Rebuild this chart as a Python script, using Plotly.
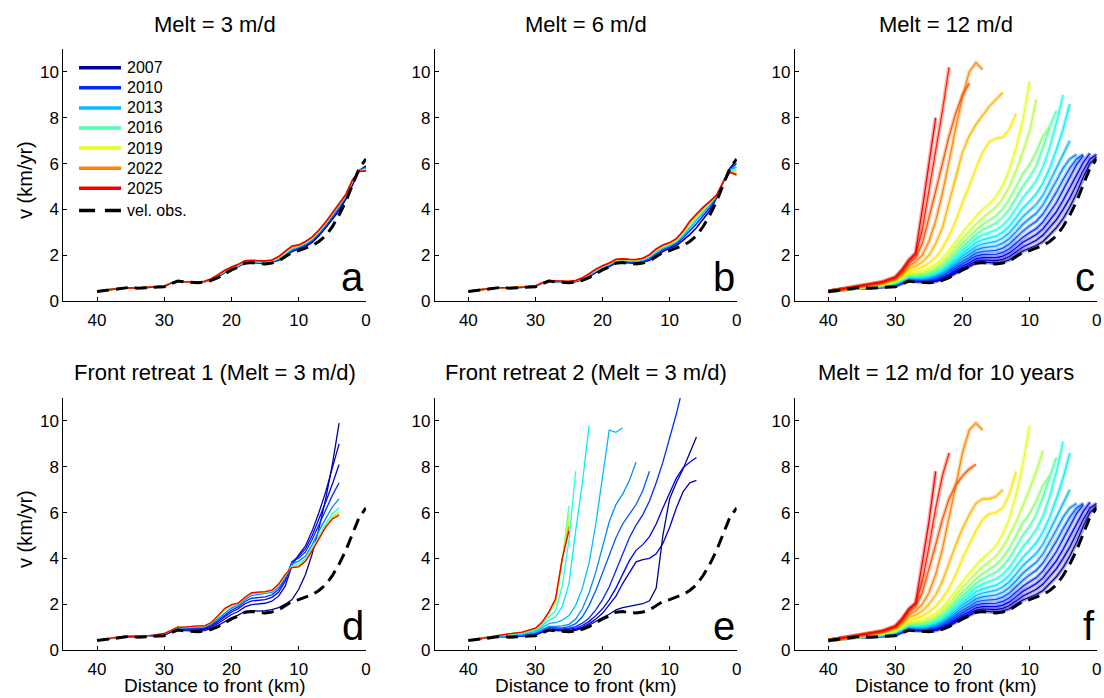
import plotly.graph_objects as go

# ---------------- data ----------------
GRID = [40, 38, 36, 34, 32, 30, 29, 28, 27, 26, 25, 24, 23, 22, 21, 20, 19, 18, 17, 16,
        15, 14, 13, 12, 11, 10, 9, 8, 7, 6, 5, 4, 3, 2, 1, 0]

OBS_X = [40, 38, 36, 35, 34, 32, 30, 29, 28, 27, 26, 25, 24, 23, 22, 21, 20, 19, 18, 17,
         16, 15, 14, 13, 12, 11, 10, 9, 8, 7, 6, 5, 4, 3, 2, 1, 0]
OBS_V = [0.41, 0.48, 0.57, 0.6, 0.56, 0.58, 0.62, 0.75, 0.87, 0.83, 0.8, 0.8, 0.82, 0.9,
         1.02, 1.2, 1.36, 1.48, 1.65, 1.68, 1.63, 1.62, 1.66, 1.75, 1.95, 2.12, 2.2, 2.3,
         2.42, 2.6, 2.85, 3.25, 3.75, 4.35, 5.05, 5.8, 6.2]

LEGEND_YEARS = [2007, 2010, 2013, 2016, 2019, 2022, 2025]

# Panel a: Melt = 3 m/d
A_YEARS = [2007, 2010, 2013, 2016, 2019, 2022, 2025]
A_VEL = [
    [0.42, 0.5, 0.58, 0.57, 0.59, 0.64, 0.78, 0.87, 0.84, 0.82, 0.82, 0.84, 0.93, 1.06, 1.24, 1.38, 1.5, 1.66, 1.68, 1.66,
     1.65, 1.69, 1.78, 1.98, 2.16, 2.28, 2.38, 2.56, 2.85, 3.2, 3.55, 3.95, 4.45, 5.1, 5.7, 5.9],
    [0.42, 0.5, 0.58, 0.57, 0.59, 0.64, 0.78, 0.87, 0.84, 0.82, 0.82, 0.85, 0.94, 1.08, 1.26, 1.4, 1.52, 1.68, 1.7, 1.68,
     1.67, 1.71, 1.81, 2.02, 2.21, 2.33, 2.44, 2.63, 2.93, 3.28, 3.65, 4.06, 4.53, 5.17, 5.69, 5.84],
    [0.42, 0.5, 0.58, 0.57, 0.59, 0.64, 0.78, 0.87, 0.84, 0.82, 0.82, 0.85, 0.95, 1.1, 1.28, 1.42, 1.54, 1.7, 1.72, 1.7,
     1.69, 1.73, 1.84, 2.06, 2.26, 2.37, 2.5, 2.69, 2.99, 3.34, 3.73, 4.13, 4.58, 5.22, 5.68, 5.79],
    [0.42, 0.5, 0.58, 0.57, 0.59, 0.64, 0.78, 0.87, 0.84, 0.82, 0.82, 0.85, 0.95, 1.12, 1.3, 1.44, 1.56, 1.72, 1.74, 1.72,
     1.71, 1.75, 1.87, 2.1, 2.31, 2.4, 2.54, 2.73, 3.03, 3.38, 3.78, 4.18, 4.61, 5.26, 5.67, 5.75],
    [0.42, 0.5, 0.58, 0.57, 0.59, 0.64, 0.78, 0.87, 0.84, 0.82, 0.82, 0.85, 0.96, 1.13, 1.32, 1.46, 1.58, 1.74, 1.76, 1.74,
     1.73, 1.77, 1.9, 2.13, 2.35, 2.42, 2.57, 2.76, 3.06, 3.41, 3.81, 4.21, 4.63, 5.28, 5.66, 5.72],
    [0.42, 0.5, 0.58, 0.57, 0.59, 0.64, 0.78, 0.87, 0.84, 0.82, 0.82, 0.85, 0.96, 1.14, 1.33, 1.47, 1.59, 1.75, 1.77, 1.75,
     1.74, 1.78, 1.92, 2.16, 2.38, 2.44, 2.59, 2.78, 3.08, 3.43, 3.83, 4.23, 4.64, 5.29, 5.65, 5.7],
    [0.42, 0.5, 0.58, 0.57, 0.59, 0.64, 0.78, 0.87, 0.84, 0.82, 0.82, 0.86, 0.97, 1.15, 1.34, 1.48, 1.6, 1.76, 1.78, 1.76,
     1.75, 1.79, 1.94, 2.18, 2.4, 2.45, 2.6, 2.8, 3.1, 3.45, 3.85, 4.25, 4.65, 5.3, 5.65, 5.68],
]

# Panel b: Melt = 6 m/d
B_YEARS = [2007, 2010, 2013, 2016, 2019, 2022, 2025]
B_VEL = [
    [0.42, 0.5, 0.58, 0.57, 0.59, 0.64, 0.78, 0.87, 0.84, 0.82, 0.82, 0.84, 0.93, 1.06, 1.24, 1.38, 1.5, 1.66, 1.68, 1.66,
     1.65, 1.69, 1.78, 1.98, 2.16, 2.3, 2.42, 2.65, 2.9, 3.2, 3.55, 3.95, 4.5, 5.2, 5.8, 6.15],
    [0.42, 0.5, 0.58, 0.57, 0.59, 0.64, 0.78, 0.87, 0.84, 0.82, 0.83, 0.86, 0.95, 1.1, 1.28, 1.42, 1.54, 1.7, 1.72, 1.7,
     1.69, 1.73, 1.84, 2.06, 2.24, 2.36, 2.5, 2.75, 3.05, 3.37, 3.72, 4.08, 4.54, 5.21, 5.76, 6.0],
    [0.42, 0.5, 0.58, 0.57, 0.59, 0.65, 0.79, 0.88, 0.85, 0.83, 0.84, 0.87, 0.97, 1.13, 1.32, 1.46, 1.58, 1.74, 1.76, 1.74,
     1.73, 1.77, 1.9, 2.12, 2.3, 2.42, 2.57, 2.85, 3.2, 3.52, 3.85, 4.18, 4.57, 5.21, 5.72, 5.85],
    [0.42, 0.5, 0.58, 0.58, 0.6, 0.65, 0.79, 0.88, 0.85, 0.83, 0.84, 0.87, 0.98, 1.15, 1.35, 1.5, 1.62, 1.78, 1.8, 1.78,
     1.77, 1.82, 1.96, 2.18, 2.36, 2.47, 2.63, 2.93, 3.32, 3.64, 3.96, 4.26, 4.6, 5.21, 5.68, 5.7],
    [0.42, 0.5, 0.58, 0.58, 0.6, 0.65, 0.79, 0.88, 0.86, 0.84, 0.85, 0.88, 0.99, 1.17, 1.37, 1.52, 1.64, 1.8, 1.82, 1.8,
     1.79, 1.84, 1.99, 2.22, 2.4, 2.5, 2.67, 2.99, 3.4, 3.72, 4.03, 4.31, 4.61, 5.2, 5.65, 5.6],
    [0.42, 0.5, 0.58, 0.58, 0.6, 0.65, 0.79, 0.89, 0.86, 0.84, 0.85, 0.88, 1.0, 1.18, 1.38, 1.53, 1.65, 1.81, 1.83, 1.81,
     1.8, 1.86, 2.01, 2.25, 2.43, 2.53, 2.7, 3.03, 3.45, 3.77, 4.07, 4.34, 4.62, 5.2, 5.63, 5.54],
    [0.42, 0.5, 0.58, 0.58, 0.6, 0.66, 0.8, 0.89, 0.87, 0.85, 0.86, 0.89, 1.01, 1.19, 1.39, 1.54, 1.66, 1.82, 1.84, 1.82,
     1.81, 1.87, 2.02, 2.27, 2.45, 2.55, 2.72, 3.06, 3.48, 3.8, 4.1, 4.35, 4.62, 5.2, 5.62, 5.5],
]

# Panel c: Melt = 12 m/d
C_YEARS = list(range(2007, 2026))
C_VEL = [
    [0.42, 0.5, 0.58, 0.58, 0.6, 0.65, 0.78, 0.88, 0.85, 0.83, 0.83, 0.85, 0.93, 1.05, 1.22, 1.38, 1.5, 1.66, 1.7, 1.66,
     1.65, 1.7, 1.8, 2.0, 2.18, 2.3, 2.42, 2.6, 2.9, 3.2, 3.6, 4.1, 4.7, 5.4, 6.0, 6.3],
    [0.42, 0.5, 0.58, 0.59, 0.61, 0.67, 0.8, 0.9, 0.87, 0.85, 0.86, 0.89, 0.98, 1.11, 1.28, 1.45, 1.58, 1.74, 1.79, 1.76,
     1.76, 1.82, 1.94, 2.15, 2.36, 2.5, 2.65, 2.88, 3.2, 3.55, 4.0, 4.5, 5.1, 5.7, 6.2, 6.4],
    [0.42, 0.5, 0.58, 0.6, 0.62, 0.68, 0.82, 0.92, 0.89, 0.87, 0.89, 0.93, 1.03, 1.17, 1.35, 1.53, 1.67, 1.84, 1.89, 1.88,
     1.89, 1.96, 2.1, 2.33, 2.56, 2.73, 2.9, 3.15, 3.5, 3.9, 4.4, 4.95, 5.5, 6.05, 6.45],
    [0.42, 0.5, 0.58, 0.6, 0.63, 0.7, 0.84, 0.95, 0.92, 0.9, 0.93, 0.98, 1.09, 1.25, 1.44, 1.63, 1.78, 1.96, 2.02, 2.02,
     2.04, 2.12, 2.28, 2.53, 2.78, 2.98, 3.16, 3.45, 3.85, 4.3, 4.85, 5.4, 5.95, 6.35],
    [0.42, 0.5, 0.58, 0.61, 0.64, 0.72, 0.86, 0.98, 0.95, 0.94, 0.97, 1.03, 1.15, 1.32, 1.53, 1.74, 1.9, 2.09, 2.16, 2.18,
     2.21, 2.31, 2.49, 2.77, 3.05, 3.28, 3.48, 3.8, 4.25, 4.75, 5.3, 5.8, 6.2, 6.4],
    [0.42, 0.5, 0.58, 0.62, 0.65, 0.74, 0.88, 1.0, 0.98, 0.97, 1.01, 1.08, 1.21, 1.4, 1.63, 1.86, 2.03, 2.23, 2.32, 2.35,
     2.4, 2.52, 2.73, 3.03, 3.35, 3.6, 3.83, 4.2, 4.7, 5.25, 5.8, 6.2, 6.4],
    [0.42, 0.5, 0.58, 0.62, 0.66, 0.76, 0.9, 1.03, 1.01, 1.0, 1.05, 1.13, 1.28, 1.48, 1.73, 1.98, 2.17, 2.38, 2.49, 2.54,
     2.6, 2.75, 2.98, 3.32, 3.68, 3.95, 4.22, 4.62, 5.18, 5.8, 6.4, 7.0],
    [0.42, 0.5, 0.58, 0.63, 0.67, 0.78, 0.92, 1.06, 1.04, 1.04, 1.09, 1.18, 1.34, 1.56, 1.83, 2.1, 2.31, 2.54, 2.67, 2.74,
     2.83, 3.0, 3.27, 3.65, 4.05, 4.35, 4.68, 5.15, 5.8, 6.6, 7.5, 8.6],
    [0.42, 0.5, 0.58, 0.63, 0.68, 0.8, 0.94, 1.09, 1.07, 1.08, 1.14, 1.24, 1.41, 1.65, 1.94, 2.23, 2.46, 2.72, 2.88, 2.98,
     3.1, 3.3, 3.62, 4.05, 4.5, 4.85, 5.25, 5.85, 6.7, 7.8, 9.0],
    [0.42, 0.5, 0.58, 0.64, 0.69, 0.82, 0.96, 1.12, 1.1, 1.12, 1.19, 1.3, 1.49, 1.75, 2.06, 2.37, 2.62, 2.9, 3.1, 3.24,
     3.4, 3.65, 4.02, 4.5, 5.0, 5.4, 5.9, 6.7, 7.6, 8.3],
    [0.42, 0.5, 0.58, 0.64, 0.7, 0.84, 0.98, 1.15, 1.14, 1.17, 1.25, 1.37, 1.58, 1.86, 2.2, 2.53, 2.8, 3.1, 3.34, 3.52,
     3.72, 4.02, 4.45, 5.0, 5.55, 5.95, 6.5, 7.2, 7.6],
    [0.42, 0.5, 0.59, 0.65, 0.71, 0.86, 1.0, 1.19, 1.19, 1.23, 1.33, 1.46, 1.69, 2.0, 2.37, 2.73, 3.03, 3.35, 3.62, 3.85,
     4.1, 4.48, 5.0, 5.7, 6.5, 7.4, 8.8],
    [0.42, 0.5, 0.59, 0.65, 0.72, 0.88, 1.03, 1.24, 1.26, 1.32, 1.44, 1.6, 1.86, 2.2, 2.6, 3.0, 3.35, 3.7, 4.0, 4.25,
     4.55, 5.05, 5.75, 6.7, 7.9, 9.6],
    [0.42, 0.51, 0.6, 0.66, 0.74, 0.91, 1.08, 1.32, 1.37, 1.48, 1.66, 1.9, 2.3, 2.85, 3.5, 4.3, 5.0, 5.8, 6.5, 6.95,
     7.1, 7.15, 7.5, 8.2],
    [0.42, 0.51, 0.6, 0.67, 0.76, 0.94, 1.14, 1.42, 1.52, 1.7, 2.0, 2.5, 3.2, 4.3, 5.4, 6.5, 7.2, 7.7, 8.1, 8.5,
     8.8, 9.1],
    [0.42, 0.51, 0.61, 0.68, 0.78, 0.97, 1.2, 1.53, 1.7, 2.0, 2.6, 3.5, 4.7, 6.1, 7.6, 8.9, 10.0, 10.4, 10.1],
    [0.42, 0.52, 0.62, 0.69, 0.8, 1.0, 1.27, 1.65, 1.88, 2.5, 3.6, 4.8, 6.0, 7.2, 8.2, 9.0, 9.5],
    [0.42, 0.52, 0.62, 0.7, 0.82, 1.02, 1.32, 1.74, 2.0, 3.1, 4.8, 6.5, 8.3, 10.2],
    [0.42, 0.52, 0.63, 0.71, 0.84, 1.05, 1.38, 1.8, 2.1, 4.0, 5.9, 8.0],
]

# Panel d: Front retreat 1 (Melt = 3 m/d)
D_YEARS = [2007, 2008, 2009, 2010, 2012, 2015, 2018, 2021, 2025]
D_VEL = [
    [0.42, 0.5, 0.58, 0.58, 0.6, 0.65, 0.78, 0.88, 0.85, 0.83, 0.83, 0.85, 0.94, 1.07, 1.25, 1.4, 1.52, 1.68, 1.72, 1.7,
     1.72, 1.76, 1.85, 2.0, 2.2, 2.65, 3.3, 4.2, 5.3, 6.6, 8.1, 9.9],
    [0.42, 0.5, 0.58, 0.59, 0.61, 0.67, 0.8, 0.91, 0.88, 0.87, 0.88, 0.9, 1.0, 1.16, 1.36, 1.55, 1.68, 1.88, 1.98, 2.0,
     2.04, 2.13, 2.35, 2.8, 3.7, 4.15, 4.55, 5.2, 6.0, 6.9, 7.9, 9.0],
    [0.42, 0.5, 0.58, 0.59, 0.62, 0.68, 0.82, 0.93, 0.91, 0.9, 0.92, 0.94, 1.06, 1.24, 1.46, 1.66, 1.8, 2.02, 2.14, 2.18,
     2.2, 2.3, 2.52, 3.0, 3.85, 4.1, 4.42, 5.0, 5.7, 6.45, 7.25, 8.1],
    [0.42, 0.5, 0.59, 0.6, 0.62, 0.69, 0.83, 0.95, 0.93, 0.93, 0.95, 0.97, 1.1, 1.3, 1.54, 1.74, 1.88, 2.12, 2.26, 2.3,
     2.32, 2.41, 2.64, 3.1, 3.85, 4.02, 4.28, 4.82, 5.45, 6.1, 6.75, 7.3],
    [0.42, 0.5, 0.59, 0.6, 0.63, 0.7, 0.85, 0.97, 0.96, 0.97, 0.99, 1.01, 1.15, 1.38, 1.64, 1.83, 1.96, 2.2, 2.38, 2.42,
     2.44, 2.51, 2.74, 3.18, 3.76, 3.88, 4.1, 4.6, 5.2, 5.75, 6.25, 6.6],
    [0.42, 0.5, 0.6, 0.6, 0.63, 0.71, 0.86, 0.99, 0.98, 1.0, 1.02, 1.03, 1.18, 1.45, 1.74, 1.91, 2.01, 2.26, 2.45, 2.49,
     2.51, 2.57, 2.81, 3.24, 3.68, 3.76, 3.98, 4.45, 5.0, 5.5, 5.95, 6.2],
    [0.42, 0.5, 0.6, 0.6, 0.63, 0.72, 0.86, 1.0, 0.99, 1.02, 1.04, 1.04, 1.19, 1.48, 1.78, 1.94, 2.03, 2.28, 2.48, 2.51,
     2.53, 2.59, 2.84, 3.27, 3.63, 3.7, 3.92, 4.39, 4.92, 5.42, 5.82, 6.03],
    [0.42, 0.5, 0.6, 0.6, 0.63, 0.72, 0.86, 1.0, 1.0, 1.03, 1.05, 1.05, 1.2, 1.5, 1.8, 1.96, 2.04, 2.29, 2.49, 2.52,
     2.54, 2.6, 2.86, 3.29, 3.61, 3.66, 3.89, 4.36, 4.88, 5.38, 5.76, 5.94],
    [0.42, 0.5, 0.6, 0.6, 0.63, 0.72, 0.86, 1.0, 1.0, 1.03, 1.05, 1.05, 1.2, 1.5, 1.82, 1.98, 2.05, 2.3, 2.5, 2.53,
     2.55, 2.61, 2.88, 3.3, 3.6, 3.63, 3.87, 4.34, 4.85, 5.36, 5.72, 5.88],
]

# Panel e: Front retreat 2 (Melt = 3 m/d)
E_YEARS = [2007, 2008, 2009, 2010, 2011, 2012, 2013, 2014, 2015, 2016, 2018, 2020, 2022, 2025]
E_VEL = [
    [0.42, 0.5, 0.58, 0.58, 0.6, 0.65, 0.78, 0.88, 0.85, 0.83, 0.83, 0.86, 0.95, 1.08, 1.26, 1.42, 1.56, 1.75, 1.85, 1.9,
     1.95, 2.02, 2.15, 2.7, 5.0, 6.6, 7.3, 7.9, 8.6, 9.3],
    [0.42, 0.5, 0.58, 0.59, 0.61, 0.67, 0.8, 0.9, 0.87, 0.85, 0.86, 0.9, 1.0, 1.15, 1.35, 1.6, 1.95, 2.35, 2.9, 3.4,
     3.85, 3.95, 4.0, 4.2, 4.65, 5.35, 6.2, 6.9, 7.3, 7.4],
    [0.42, 0.5, 0.58, 0.6, 0.62, 0.68, 0.82, 0.92, 0.9, 0.88, 0.9, 0.95, 1.07, 1.25, 1.5, 1.8, 2.2, 2.7, 3.3, 3.9,
     4.35, 4.6, 4.95, 5.5, 6.2, 6.85, 7.5, 7.95, 8.2, 8.4],
    [0.42, 0.5, 0.58, 0.6, 0.63, 0.7, 0.84, 0.95, 0.93, 0.92, 0.95, 1.02, 1.17, 1.4, 1.75, 2.2, 2.75, 3.45, 4.2, 4.9,
     5.45, 5.9, 6.5, 7.3, 8.2, 9.2, 10.3, 11.5],
    [0.42, 0.5, 0.58, 0.61, 0.64, 0.72, 0.87, 0.98, 0.97, 0.97, 1.02, 1.15, 1.45, 1.95, 2.6, 3.35, 4.15, 4.9, 5.5, 5.95,
     6.35, 6.95, 7.8],
    [0.42, 0.5, 0.59, 0.62, 0.66, 0.75, 0.9, 1.03, 1.03, 1.05, 1.12, 1.35, 1.8, 2.5, 3.4, 4.5, 5.6, 6.35, 6.8, 7.4,
     8.2],
    [0.42, 0.51, 0.6, 0.64, 0.69, 0.8, 0.98, 1.15, 1.2, 1.3, 1.5, 1.95, 2.7, 3.8, 5.5, 7.5, 9.6, 9.5, 9.7],
    [0.42, 0.51, 0.61, 0.66, 0.72, 0.86, 1.06, 1.3, 1.45, 1.9, 2.9, 5.2, 7.3, 9.8],
    [0.42, 0.52, 0.62, 0.68, 0.75, 0.9, 1.12, 1.45, 1.7, 2.8, 4.8, 7.8],
    [0.42, 0.52, 0.63, 0.69, 0.76, 0.92, 1.15, 1.6, 2.05, 3.9, 6.3],
    [0.42, 0.52, 0.63, 0.7, 0.77, 0.93, 1.18, 1.62, 2.1, 3.95, 5.9],
    [0.42, 0.52, 0.63, 0.7, 0.77, 0.94, 1.2, 1.64, 2.15, 4.0, 5.6],
    [0.42, 0.52, 0.63, 0.7, 0.77, 0.94, 1.2, 1.65, 2.2, 4.0, 5.4],
    [0.42, 0.52, 0.63, 0.7, 0.78, 0.95, 1.22, 1.66, 2.25, 4.0, 5.2],
]

# Panel f: Melt = 12 m/d for 10 years
F_YEARS = list(range(2007, 2026))
F_VEL = [
    [0.42, 0.5, 0.58, 0.58, 0.6, 0.65, 0.78, 0.88, 0.85, 0.83, 0.83, 0.85, 0.93, 1.05, 1.22, 1.38, 1.5, 1.66, 1.7, 1.66,
     1.65, 1.7, 1.8, 2.0, 2.18, 2.3, 2.42, 2.6, 2.9, 3.2, 3.6, 4.1, 4.7, 5.4, 6.0, 6.3],
    [0.42, 0.5, 0.58, 0.59, 0.61, 0.67, 0.8, 0.9, 0.87, 0.85, 0.86, 0.89, 0.98, 1.11, 1.28, 1.45, 1.58, 1.74, 1.79, 1.76,
     1.76, 1.82, 1.94, 2.15, 2.36, 2.5, 2.65, 2.88, 3.2, 3.55, 4.0, 4.5, 5.1, 5.7, 6.2, 6.4],
    [0.42, 0.5, 0.58, 0.6, 0.62, 0.68, 0.82, 0.92, 0.89, 0.87, 0.89, 0.93, 1.03, 1.17, 1.35, 1.53, 1.67, 1.84, 1.89, 1.88,
     1.89, 1.96, 2.1, 2.33, 2.56, 2.73, 2.9, 3.15, 3.5, 3.9, 4.4, 4.95, 5.5, 6.05, 6.45],
    [0.42, 0.5, 0.58, 0.6, 0.63, 0.7, 0.84, 0.95, 0.92, 0.9, 0.93, 0.98, 1.09, 1.25, 1.44, 1.63, 1.78, 1.96, 2.02, 2.02,
     2.04, 2.12, 2.28, 2.53, 2.78, 2.98, 3.16, 3.45, 3.85, 4.3, 4.85, 5.4, 5.95, 6.35],
    [0.42, 0.5, 0.58, 0.61, 0.64, 0.72, 0.86, 0.98, 0.95, 0.94, 0.97, 1.03, 1.15, 1.32, 1.53, 1.74, 1.9, 2.09, 2.16, 2.18,
     2.21, 2.31, 2.49, 2.77, 3.05, 3.28, 3.48, 3.8, 4.25, 4.75, 5.3, 5.8, 6.2, 6.4],
    [0.42, 0.5, 0.58, 0.62, 0.65, 0.74, 0.88, 1.0, 0.98, 0.97, 1.01, 1.08, 1.21, 1.4, 1.63, 1.86, 2.03, 2.23, 2.32, 2.35,
     2.4, 2.52, 2.73, 3.03, 3.35, 3.6, 3.83, 4.2, 4.7, 5.25, 5.8, 6.2, 6.4],
    [0.42, 0.5, 0.58, 0.62, 0.66, 0.76, 0.9, 1.03, 1.01, 1.0, 1.05, 1.13, 1.28, 1.48, 1.73, 1.98, 2.17, 2.38, 2.49, 2.54,
     2.6, 2.75, 2.98, 3.32, 3.68, 3.95, 4.22, 4.62, 5.18, 5.8, 6.4, 7.0],
    [0.42, 0.5, 0.58, 0.63, 0.67, 0.78, 0.92, 1.06, 1.04, 1.04, 1.09, 1.18, 1.34, 1.56, 1.83, 2.1, 2.31, 2.54, 2.67, 2.74,
     2.83, 3.0, 3.27, 3.65, 4.05, 4.35, 4.68, 5.15, 5.8, 6.6, 7.5, 8.6],
    [0.42, 0.5, 0.58, 0.63, 0.68, 0.8, 0.94, 1.09, 1.07, 1.08, 1.14, 1.24, 1.41, 1.65, 1.94, 2.23, 2.46, 2.72, 2.88, 2.98,
     3.1, 3.3, 3.62, 4.05, 4.5, 4.85, 5.25, 5.85, 6.7, 7.8, 9.1],
    [0.42, 0.5, 0.58, 0.64, 0.69, 0.82, 0.96, 1.12, 1.1, 1.12, 1.19, 1.3, 1.49, 1.75, 2.06, 2.37, 2.62, 2.9, 3.1, 3.24,
     3.4, 3.65, 4.02, 4.5, 5.0, 5.4, 5.9, 6.7, 7.6, 8.4],
    [0.42, 0.5, 0.58, 0.64, 0.7, 0.84, 0.98, 1.15, 1.14, 1.17, 1.25, 1.37, 1.58, 1.86, 2.2, 2.53, 2.8, 3.1, 3.34, 3.52,
     3.72, 4.02, 4.45, 5.0, 5.55, 5.95, 6.5, 7.2, 7.6],
    [0.42, 0.5, 0.59, 0.65, 0.71, 0.86, 1.0, 1.19, 1.19, 1.23, 1.33, 1.46, 1.69, 2.0, 2.37, 2.73, 3.03, 3.35, 3.62, 3.85,
     4.1, 4.48, 5.0, 5.6, 6.3, 7.0, 7.8, 8.7],
    [0.42, 0.5, 0.59, 0.65, 0.72, 0.88, 1.03, 1.24, 1.26, 1.32, 1.44, 1.6, 1.86, 2.2, 2.6, 3.0, 3.35, 3.7, 4.0, 4.25,
     4.55, 5.05, 5.75, 6.8, 8.1, 9.8],
    [0.42, 0.51, 0.6, 0.66, 0.74, 0.91, 1.08, 1.32, 1.37, 1.48, 1.66, 1.9, 2.25, 2.7, 3.3, 4.0, 4.6, 5.2, 5.7, 5.95,
     6.0, 6.2, 6.8, 7.8],
    [0.42, 0.51, 0.6, 0.67, 0.76, 0.94, 1.14, 1.42, 1.52, 1.7, 2.0, 2.4, 3.0, 3.8, 4.6, 5.3, 5.9, 6.4, 6.6, 6.6,
     6.7, 7.0],
    [0.42, 0.51, 0.61, 0.68, 0.78, 0.97, 1.2, 1.53, 1.7, 2.0, 2.5, 3.3, 4.4, 5.8, 7.2, 8.6, 9.6, 9.9, 9.6],
    [0.42, 0.52, 0.62, 0.69, 0.8, 1.0, 1.27, 1.65, 1.88, 2.5, 3.5, 4.6, 5.7, 6.6, 7.2, 7.6, 7.9, 8.1],
    [0.42, 0.52, 0.62, 0.7, 0.82, 1.02, 1.32, 1.74, 2.0, 3.0, 4.5, 6.2, 7.6, 8.6],
    [0.42, 0.52, 0.63, 0.71, 0.84, 1.05, 1.38, 1.8, 2.05, 3.8, 5.6, 7.8],
]

TITLES = ["Melt = 3 m/d", "Melt = 6 m/d", "Melt = 12 m/d",
          "Front retreat 1 (Melt = 3 m/d)", "Front retreat 2 (Melt = 3 m/d)",
          "Melt = 12 m/d for 10 years"]
LETTERS = ["a", "b", "c", "d", "e", "f"]
X_TICKS = [40, 30, 20, 10, 0]
Y_TICKS = [0, 2, 4, 6, 8, 10]

# (years, values, thin width, soft band width under the thin line)
PANELS = [(A_YEARS, A_VEL, 1.6, 0), (B_YEARS, B_VEL, 1.6, 0), (C_YEARS, C_VEL, 1.2, 4),
          (D_YEARS, D_VEL, 1.3, 0), (E_YEARS, E_VEL, 1.3, 0), (F_YEARS, F_VEL, 1.2, 4)]

# ---------------- style ----------------
W, H = 1104, 698
FONT = "Liberation Sans, Arial, Helvetica, sans-serif"
COLS = [(63.4, 366.0), (434.8, 736.7), (794.8, 1096.7)]
ROWS = [(49.0, 301.0), (398.0, 650.0)]


def jet(v, alpha=1.0):
    def c(t):
        return max(0.0, min(1.0, t))
    r = c(1.5 - abs(4 * v - 3))
    g = c(1.5 - abs(4 * v - 2))
    b = c(1.5 - abs(4 * v - 1))
    return "rgba(%d,%d,%d,%.2f)" % (round(r * 255), round(g * 255), round(b * 255), alpha)


def year_color(yr, alpha=1.0):
    return jet(0.02 + (yr - 2007) * 0.0483, alpha)


fig = go.Figure()
layout = dict(template="none", width=W, height=H, autosize=False,
              margin=dict(l=0, r=0, t=0, b=0, pad=0),
              plot_bgcolor="white", paper_bgcolor="white", showlegend=False,
              font=dict(family=FONT, color="black"))
annotations = []
shapes = []

for i, (years, vels, lw, bw) in enumerate(PANELS):
    n = "" if i == 0 else str(i + 1)
    row, col = divmod(i, 3)
    x0, x1 = COLS[col]
    y0, y1 = ROWS[row]
    for yr, v in zip(years, vels):
        xs = GRID[:len(v)]
        if bw:
            fig.add_trace(go.Scatter(x=xs, y=v, mode="lines",
                                     line=dict(color=year_color(yr, 0.35), width=bw),
                                     xaxis="x" + n, yaxis="y" + n, hoverinfo="skip"))
        fig.add_trace(go.Scatter(x=xs, y=v, mode="lines",
                                 line=dict(color=year_color(yr), width=lw),
                                 xaxis="x" + n, yaxis="y" + n, hoverinfo="skip"))
    fig.add_trace(go.Scatter(x=OBS_X, y=OBS_V, mode="lines",
                             line=dict(color="black", width=3, dash="12px,7px"),
                             xaxis="x" + n, yaxis="y" + n, hoverinfo="skip"))
    axcommon = dict(showline=True, linecolor="black", linewidth=1, mirror=False,
                    ticks="inside", ticklen=4, tickwidth=1, tickcolor="black",
                    showgrid=False, zeroline=False, automargin=False,
                    tickfont=dict(family=FONT, size=17, color="black"))
    layout["xaxis" + n] = dict(axcommon, domain=[x0 / W, x1 / W], range=[45, 0],
                               tickvals=X_TICKS, anchor="y" + n, ticklabelstandoff=4)
    layout["yaxis" + n] = dict(axcommon, domain=[1 - y1 / H, 1 - y0 / H], range=[0, 11],
                               tickvals=Y_TICKS, anchor="x" + n)
    # title
    annotations.append(dict(text=TITLES[i], xref="paper", yref="paper",
                            x=(x0 + x1) / 2 / W, y=1 - (24 if row == 0 else 372) / H,
                            xanchor="center", yanchor="middle", showarrow=False,
                            font=dict(family=FONT, size=22, color="black")))
    # panel letter
    annotations.append(dict(text=LETTERS[i], xref="x" + n, yref="y" + n, x=0, y=0,
                            xanchor="right", yanchor="bottom", showarrow=False,
                            font=dict(family=FONT, size=40, color="black")))

# axis labels
for yc in (180, 529):
    annotations.append(dict(text="v (km/yr)", xref="paper", yref="paper", x=25 / W,
                            y=1 - yc / H, xanchor="center", yanchor="middle", textangle=-90,
                            showarrow=False, font=dict(family=FONT, size=20, color="black")))
for col in range(3):
    x0, x1 = COLS[col]
    annotations.append(dict(text="Distance to front (km)", xref="paper", yref="paper",
                            x=(x0 + x1) / 2 / W, y=1 - 685 / H, xanchor="center",
                            yanchor="middle", showarrow=False,
                            font=dict(family=FONT, size=19, color="black")))

# legend (panel a)
for k, yr in enumerate(LEGEND_YEARS):
    yc = 67.7 + k * 20.1
    shapes.append(dict(type="line", xref="paper", yref="paper", x0=79 / W, x1=121 / W,
                       y0=1 - yc / H, y1=1 - yc / H,
                       line=dict(color=year_color(yr), width=3.5)))
    annotations.append(dict(text=str(yr), xref="paper", yref="paper", x=125 / W,
                            y=1 - yc / H, xanchor="left", yanchor="middle", showarrow=False,
                            font=dict(family=FONT, size=16, color="black")))
yc = 67.7 + 7 * 20.4
shapes.append(dict(type="line", xref="paper", yref="paper", x0=79 / W, x1=121 / W,
                   y0=1 - yc / H, y1=1 - yc / H,
                   line=dict(color="black", width=3.5, dash="16px,10px")))
annotations.append(dict(text="vel. obs.", xref="paper", yref="paper", x=125 / W,
                        y=1 - yc / H, xanchor="left", yanchor="middle", showarrow=False,
                        font=dict(family=FONT, size=16, color="black")))

layout["annotations"] = annotations
layout["shapes"] = shapes
fig.update_layout(**layout)
fig.write_html("out.html", config={"displayModeBar": False},
               post_script="document.body.style.margin='0px';")
